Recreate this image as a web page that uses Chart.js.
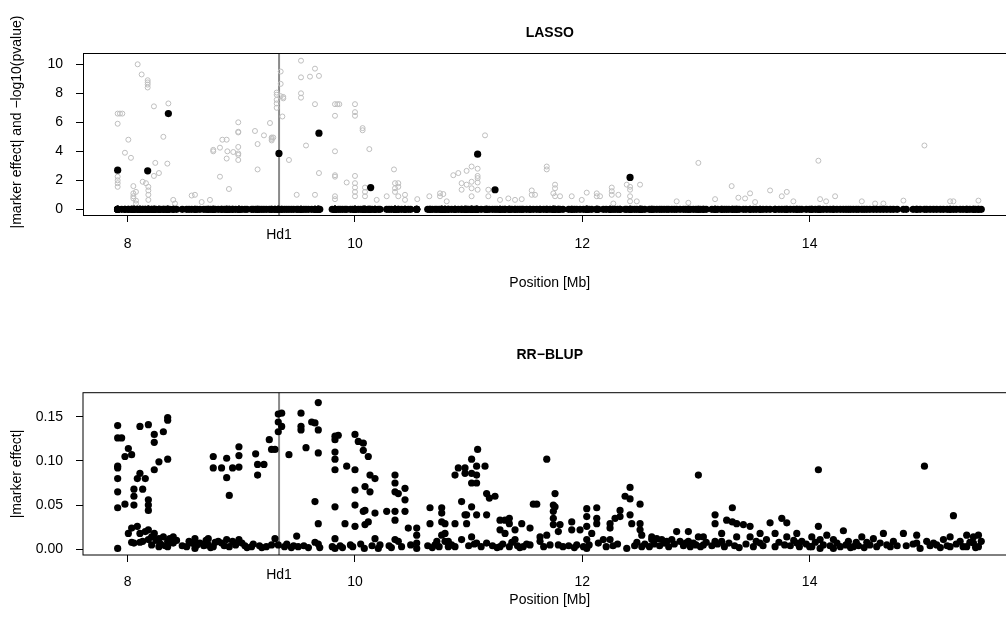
<!DOCTYPE html>
<html>
<head>
<meta charset="utf-8">
<script src="https://cdn.jsdelivr.net/npm/chart.js@4.4.1/dist/chart.umd.min.js"></script>
<style>
  body { margin: 0; width: 1006px; height: 637px; overflow: hidden; background: #fff; position: relative; }
  canvas { position: absolute; left: 0; }
  #lasso { top: 0; }
  #rrblup { top: 318px; }
</style>
</head>
<body>
<canvas id="lasso" width="1040" height="318"></canvas>
<canvas id="rrblup" width="1040" height="319"></canvas>
<script>
// position of the Hd1 gene [Mb]
const hd1Pos = 9.332;

// tick labels
const xTicks = [8, 10, 12, 14];
const lassoTicks = [0, 2, 4, 6, 8, 10];
const rrTicks = [0, 0.05, 0.10, 0.15];

// marker positions [Mb] and RR-BLUP |marker effect|
const markerPos = [
  7.912, 7.912, 7.912, 7.912, 7.912, 7.912, 7.912, 7.912,
  7.947, 7.976, 7.976, 8.006, 8.006, 8.035, 8.035, 8.035,
  8.055, 8.055, 8.055, 8.055, 8.085, 8.085, 8.108, 8.108, 8.108, 8.108,
  8.132, 8.132, 8.155, 8.155, 8.182, 8.182, 8.182, 8.182, 8.182, 8.182,
  8.211, 8.211, 8.234, 8.234, 8.234, 8.234, 8.250, 8.275, 8.275, 8.275, 8.290,
  8.314, 8.314, 8.330, 8.352, 8.352, 8.352, 8.352, 8.352, 8.370, 8.401, 8.401, 8.430,
  8.480, 8.519, 8.540, 8.563, 8.592, 8.592, 8.610, 8.636, 8.670, 8.690, 8.709, 8.709, 8.730,
  8.753, 8.753, 8.753, 8.770, 8.797, 8.826, 8.826, 8.850, 8.871, 8.871, 8.871, 8.894, 8.894,
  8.923, 8.923, 8.950, 8.979, 8.979, 8.979, 8.979, 9.005, 9.032, 9.050,
  9.090, 9.105, 9.126, 9.143, 9.143, 9.160, 9.180, 9.199, 9.220, 9.246, 9.266, 9.266, 9.296, 9.296,
  9.325, 9.325, 9.325, 9.325, 9.355, 9.355, 9.380, 9.400, 9.419, 9.440, 9.460, 9.487, 9.500,
  9.525, 9.525, 9.525, 9.550, 9.569, 9.590, 9.619, 9.648, 9.648, 9.648, 9.677, 9.677, 9.677, 9.677, 9.677, 9.690,
  9.800, 9.824, 9.824, 9.824, 9.824, 9.824, 9.824, 9.824, 9.824, 9.853, 9.870, 9.890, 9.912, 9.927, 9.960, 9.980,
  10.000, 10.000, 10.000, 10.000, 10.000, 10.029, 10.050, 10.073, 10.073, 10.073, 10.082, 10.088, 10.088, 10.088,
  10.117, 10.117, 10.132, 10.132, 10.150, 10.176, 10.176, 10.176, 10.205, 10.220,
  10.279, 10.300, 10.320, 10.352, 10.352, 10.352, 10.352, 10.352, 10.352, 10.381, 10.381, 10.410,
  10.440, 10.440, 10.440, 10.469, 10.490, 10.543, 10.543, 10.543, 10.543,
  10.640, 10.660, 10.660, 10.680, 10.704, 10.720, 10.740, 10.763, 10.763, 10.763, 10.763,
  10.792, 10.792, 10.792, 10.821, 10.821, 10.850, 10.880, 10.880, 10.880, 10.909, 10.938, 10.938,
  10.968, 10.968, 10.968, 10.982, 10.982, 11.000, 11.026, 11.026, 11.026, 11.026, 11.026, 11.050,
  11.070, 11.070, 11.070, 11.070, 11.070, 11.079, 11.110, 11.144, 11.158, 11.158, 11.158, 11.182,
  11.210, 11.232, 11.250, 11.276, 11.276, 11.276, 11.300, 11.320, 11.320, 11.358, 11.358, 11.358,
  11.380, 11.408, 11.408, 11.430, 11.450,
  11.467, 11.480, 11.510, 11.540, 11.540, 11.569, 11.599, 11.628, 11.628, 11.660, 11.687, 11.687, 11.716,
  11.745, 11.745, 11.745, 11.745, 11.760, 11.760, 11.789, 11.789, 11.804, 11.830,
  11.880, 11.907, 11.907, 11.930, 11.951, 11.980, 12.010, 12.039, 12.039, 12.039, 12.039, 12.039, 12.060,
  12.083, 12.127, 12.127, 12.127, 12.141, 12.185, 12.210, 12.244, 12.244, 12.244, 12.270, 12.288, 12.310,
  12.332, 12.332, 12.376, 12.391, 12.420, 12.420, 12.420, 12.435, 12.460, 12.480, 12.508, 12.508, 12.508,
  12.523, 12.523, 12.550, 12.590, 12.611, 12.611, 12.630, 12.655, 12.680, 12.699, 12.720, 12.743, 12.760,
  12.787, 12.810, 12.830, 12.860, 12.890, 12.910, 12.933, 12.933, 12.950, 12.977, 13.000, 13.021, 13.021,
  13.040, 13.065, 13.065, 13.090,
  13.140, 13.168, 13.168, 13.168, 13.190, 13.226, 13.226, 13.250, 13.270, 13.290, 13.320, 13.320, 13.340,
  13.358, 13.358, 13.380, 13.417, 13.440, 13.476, 13.476, 13.505, 13.530, 13.564, 13.564, 13.590, 13.620,
  13.652, 13.696, 13.696, 13.730, 13.755, 13.780, 13.799, 13.799, 13.830, 13.860, 13.887, 13.887, 13.910, 13.931,
  13.970, 14.000, 14.019, 14.019, 14.050, 14.077, 14.077, 14.092, 14.092, 14.120, 14.151, 14.180, 14.209, 14.209,
  14.240, 14.270, 14.297, 14.320, 14.341, 14.360, 14.385, 14.410, 14.430, 14.459, 14.480, 14.503, 14.530,
  14.561, 14.590, 14.620, 14.649, 14.679, 14.710, 14.737, 14.770,
  14.825, 14.850, 14.910, 14.942, 14.942, 14.972, 15.010, 15.030, 15.060, 15.090, 15.118, 15.150, 15.177,
  15.210, 15.236, 15.236, 15.265, 15.290, 15.324, 15.350, 15.382, 15.382, 15.410, 15.441, 15.441, 15.460, 15.485, 15.485, 15.510
];
const rrEffect = [
  0.140, 0.126, 0.094, 0.092, 0.080, 0.065, 0.047, 0.001,
  0.126, 0.105, 0.051, 0.114, 0.018, 0.107, 0.024, 0.008,
  0.068, 0.060, 0.050, 0.007, 0.080, 0.026, 0.139, 0.086, 0.018, 0.008,
  0.068, 0.009, 0.080, 0.020, 0.141, 0.056, 0.050, 0.044, 0.022, 0.011,
  0.014, 0.005, 0.130, 0.121, 0.090, 0.018, 0.010, 0.099, 0.012, 0.003, 0.006,
  0.133, 0.014, 0.004, 0.149, 0.146, 0.102, 0.009, 0.003, 0.012, 0.014, 0.007, 0.010,
  0.004, 0.003, 0.009, 0.007, 0.012, 0.001, 0.005, 0.007, 0.004, 0.010, 0.012, 0.005, 0.002,
  0.105, 0.092, 0.003, 0.008, 0.009, 0.092, 0.007, 0.004, 0.103, 0.081, 0.011, 0.061, 0.003,
  0.092, 0.009, 0.005, 0.116, 0.106, 0.093, 0.011, 0.007, 0.004, 0.002,
  0.003, 0.006, 0.108, 0.096, 0.084, 0.004, 0.002, 0.096, 0.003, 0.124, 0.113, 0.005, 0.113, 0.012,
  0.153, 0.144, 0.133, 0.005, 0.154, 0.139, 0.003, 0.006, 0.107, 0.002, 0.004, 0.015, 0.003,
  0.154, 0.139, 0.135, 0.004, 0.115, 0.002, 0.144, 0.143, 0.054, 0.008, 0.166, 0.135, 0.109, 0.029, 0.006, 0.002,
  0.003, 0.128, 0.124, 0.110, 0.102, 0.090, 0.048, 0.012, 0.001, 0.129, 0.004, 0.002, 0.029, 0.094, 0.005, 0.003,
  0.130, 0.090, 0.067, 0.050, 0.026, 0.122, 0.006, 0.120, 0.112, 0.043, 0.001, 0.071, 0.044, 0.028,
  0.105, 0.031, 0.084, 0.065, 0.004, 0.080, 0.041, 0.012, 0.001, 0.005,
  0.043, 0.004, 0.002, 0.084, 0.075, 0.065, 0.043, 0.033, 0.011, 0.063, 0.009, 0.003,
  0.069, 0.056, 0.043, 0.024, 0.005, 0.024, 0.016, 0.007, 0.001,
  0.004, 0.047, 0.029, 0.002, 0.005, 0.009, 0.003, 0.047, 0.041, 0.031, 0.016,
  0.029, 0.018, 0.009, 0.009, 0.003, 0.005, 0.084, 0.029, 0.003, 0.092, 0.054, 0.011,
  0.092, 0.086, 0.039, 0.039, 0.029, 0.004, 0.102, 0.086, 0.075, 0.048, 0.014, 0.006,
  0.094, 0.084, 0.075, 0.039, 0.007, 0.113, 0.003, 0.094, 0.063, 0.039, 0.007, 0.058,
  0.004, 0.060, 0.002, 0.033, 0.022, 0.003, 0.006, 0.033, 0.018, 0.035, 0.029, 0.003,
  0.008, 0.022, 0.011, 0.004, 0.002,
  0.029, 0.003, 0.006, 0.024, 0.005, 0.051, 0.051, 0.014, 0.009, 0.003, 0.102, 0.016, 0.005,
  0.050, 0.043, 0.035, 0.028, 0.063, 0.048, 0.020, 0.005, 0.028, 0.003,
  0.004, 0.031, 0.022, 0.002, 0.005, 0.022, 0.003, 0.046, 0.037, 0.026, 0.011, 0.001, 0.005,
  0.018, 0.047, 0.035, 0.029, 0.007, 0.011, 0.003, 0.029, 0.024, 0.011, 0.004, 0.035, 0.006,
  0.044, 0.037, 0.060, 0.001, 0.070, 0.057, 0.039, 0.029, 0.004, 0.008, 0.051, 0.029, 0.022,
  0.016, 0.003, 0.006, 0.003, 0.014, 0.011, 0.006, 0.012, 0.004, 0.011, 0.007, 0.009, 0.003,
  0.011, 0.006, 0.020, 0.009, 0.004, 0.007, 0.020, 0.009, 0.003, 0.007, 0.005, 0.084, 0.014,
  0.003, 0.014, 0.005, 0.008,
  0.004, 0.039, 0.029, 0.009, 0.006, 0.018, 0.009, 0.003, 0.033, 0.007, 0.047, 0.031, 0.004,
  0.029, 0.014, 0.002, 0.028, 0.006, 0.026, 0.014, 0.003, 0.009, 0.018, 0.007, 0.004, 0.011,
  0.030, 0.018, 0.003, 0.008, 0.035, 0.005, 0.030, 0.014, 0.004, 0.010, 0.018, 0.007, 0.003, 0.009,
  0.006, 0.003, 0.014, 0.003, 0.008, 0.090, 0.026, 0.011, 0.001, 0.005, 0.016, 0.004, 0.011, 0.001,
  0.007, 0.003, 0.021, 0.005, 0.009, 0.002, 0.003, 0.008, 0.004, 0.014, 0.002, 0.008, 0.005,
  0.012, 0.003, 0.007, 0.018, 0.005, 0.003, 0.009, 0.004,
  0.018, 0.004, 0.006, 0.016, 0.007, 0.001, 0.094, 0.009, 0.004, 0.007, 0.005, 0.002, 0.011,
  0.004, 0.014, 0.003, 0.038, 0.006, 0.009, 0.003, 0.016, 0.003, 0.008, 0.014, 0.007, 0.002, 0.016, 0.003, 0.009
];

// single-marker test, -log10(pvalue) (only the ones that show above the zero row)
const pvalPos = [
  7.912, 7.912, 7.912, 7.912, 7.912, 7.912, 7.932, 7.953, 7.976, 8.006, 8.029,
  8.050, 8.050, 8.050, 8.050, 8.073, 8.073, 8.073, 8.088, 8.123, 8.132, 8.161,
  8.176, 8.176, 8.176, 8.176, 8.182, 8.182, 8.182, 8.182, 8.231, 8.231, 8.243, 8.275,
  8.314, 8.349, 8.358, 8.401, 8.416, 8.563, 8.592, 8.651, 8.724, 8.753, 8.753,
  8.812, 8.812, 8.833, 8.871, 8.871, 8.877, 8.891, 8.929,
  8.973, 8.973, 8.973, 8.973, 8.973, 8.973, 8.973, 9.120, 9.143, 9.143, 9.199, 9.252,
  9.267, 9.267, 9.267, 9.281, 9.311, 9.311, 9.311, 9.311, 9.311,
  9.346, 9.346, 9.346, 9.361, 9.369, 9.369, 9.419, 9.487,
  9.525, 9.525, 9.525, 9.525, 9.569, 9.604, 9.648, 9.648, 9.648, 9.683, 9.683,
  9.824, 9.824, 9.824, 9.824, 9.824, 9.824, 9.824, 9.845, 9.862, 9.927,
  10.000, 10.000, 10.000, 10.000, 10.000, 10.000, 10.000, 10.000, 10.067, 10.067,
  10.088, 10.088, 10.088, 10.126, 10.191, 10.279, 10.343, 10.352, 10.352, 10.352,
  10.381, 10.381, 10.381, 10.440, 10.440, 10.548, 10.654, 10.748, 10.748, 10.777, 10.807,
  10.865, 10.909, 10.938, 10.938, 10.982, 10.982, 11.026, 11.026, 11.026, 11.026,
  11.079, 11.079, 11.079, 11.079, 11.079, 11.144, 11.173, 11.173, 11.276, 11.349, 11.408,
  11.467, 11.555, 11.555, 11.584, 11.687, 11.687, 11.745, 11.760, 11.760, 11.760, 11.804,
  11.907, 11.995, 12.039, 12.127, 12.127, 12.156, 12.259, 12.259, 12.259, 12.273, 12.317,
  12.391, 12.420, 12.420, 12.420, 12.420, 12.479, 12.508, 12.830, 12.933, 13.021,
  13.168, 13.314, 13.373, 13.432, 13.476, 13.520, 13.652, 13.755, 13.799, 13.857,
  14.077, 14.092, 14.145, 14.224, 14.459, 14.576, 14.649, 14.825, 15.010, 15.236, 15.265, 15.485
];
const pvalLog = [
  6.6, 5.9, 2.25, 2.0, 1.8, 1.55, 6.6, 6.6, 3.9, 4.8, 3.55,
  1.6, 1.1, 0.9, 0.75, 1.2, 0.6, 0.4, 10.0, 9.3, 1.9, 1.8,
  8.9, 8.75, 8.6, 8.4, 1.55, 1.3, 1.0, 0.65, 7.1, 2.3, 3.2, 2.5,
  5.0, 3.15, 7.3, 0.65, 0.4, 0.95, 1.0, 0.5, 0.65, 4.1, 4.0,
  2.25, 4.25, 4.8, 4.8, 3.5, 4.0, 1.4, 3.95,
  6.0, 5.35, 5.3, 4.3, 3.85, 3.75, 3.4, 5.4, 4.5, 2.75, 5.1, 5.95,
  4.95, 4.85, 4.75, 4.95, 8.05, 7.9, 7.55, 7.3, 7.0,
  9.5, 8.65, 7.8, 6.4, 7.75, 7.65, 3.4, 1.0,
  10.25, 9.1, 8.0, 7.7, 4.4, 9.15, 9.7, 7.25, 1.0, 9.2, 2.5,
  7.25, 6.45, 4.0, 2.35, 2.25, 0.9, 0.7, 7.25, 7.25, 1.85,
  7.25, 6.7, 6.45, 2.3, 1.8, 1.5, 1.2, 0.9, 5.6, 5.45,
  1.5, 1.2, 0.9, 4.15, 0.65, 0.9, 2.75, 1.8, 1.45, 1.2,
  1.8, 1.55, 0.9, 1.0, 0.65, 0.7, 0.9, 1.1, 0.9, 1.05, 0.55,
  2.35, 2.5, 1.8, 1.35, 2.65, 1.7, 2.95, 1.9, 1.45, 0.9,
  2.8, 2.3, 2.15, 1.85, 1.35, 5.1, 1.35, 0.9, 0.65, 0.75, 0.65,
  0.7, 1.3, 1.0, 1.0, 2.95, 2.75, 1.1, 1.7, 1.45, 0.9, 0.9,
  0.9, 0.65, 1.15, 1.1, 0.9, 0.9, 1.5, 1.25, 1.0, 0.4, 1.0,
  1.7, 1.55, 1.35, 0.9, 0.55, 0.55, 1.7, 0.55, 0.45, 3.2,
  0.7, 1.6, 0.8, 0.75, 1.1, 0.5, 1.3, 0.9, 1.2, 0.55,
  3.35, 0.7, 0.55, 0.9, 0.55, 0.4, 0.4, 0.6, 4.4, 0.55, 0.55, 0.6
];

// markers picked by LASSO (every other marker has effect 0)
const lassoPos = [7.912, 8.176, 8.358, 9.331, 9.683, 10.138, 11.079, 11.232, 12.420];
const lassoEffect = [2.7, 2.65, 6.6, 3.85, 5.25, 1.5, 3.8, 1.35, 2.2];

const FONT = '"Liberation Sans", Arial, Helvetica, sans-serif';

// R-style frame, Hd1 line, titles and Hd1 label
const rPanelPlugin = {
    id: "rPanel",
    beforeDatasetsDraw(chart, args, o) {
        const { ctx, chartArea: a } = chart;
        const px = chart.scales.x.getPixelForValue(hd1Pos);
        ctx.save();
        ctx.strokeStyle = "#8a8a8a";
        ctx.lineWidth = 2;
        ctx.beginPath();
        ctx.moveTo(px, a.top);
        ctx.lineTo(px, a.bottom);
        ctx.stroke();
        ctx.restore();
    },
    afterDraw(chart, args, o) {
        const { ctx, chartArea: a } = chart;
        ctx.save();
        ctx.strokeStyle = o.boxColor;
        ctx.lineWidth = 1;
        ctx.strokeRect(a.left + o.boxOffset, a.top + o.boxOffset, a.right - a.left + 20, a.bottom - a.top);

        ctx.fillStyle = "#000";
        ctx.textAlign = "center";
        ctx.textBaseline = "middle";
        ctx.font = "bold 14px " + FONT;
        ctx.fillText(o.title, (a.left + a.right) / 2, a.top - o.titleGap);

        ctx.font = "14px " + FONT;
        ctx.fillText("Hd1", chart.scales.x.getPixelForValue(hd1Pos), a.bottom + o.hd1Gap);

        // y axis title
        ctx.translate(17.5, o.yTitleY);
        ctx.rotate(-Math.PI / 2);
        ctx.fillText(o.yTitle, 0, 0);
        ctx.restore();
    },
};

function makePanel(id, geo, datasets, yTicks, yFormat) {
    const canvas = document.getElementById(id);
    const tickFont = { family: FONT, size: 14 };
    return new Chart(canvas, {
        type: "scatter",
        data: { datasets: datasets },
        options: {
            responsive: false,
            animation: false,
            devicePixelRatio: 1,
            events: [],
            layout: {
                padding: { left: 0, top: geo.top, right: canvas.width - geo.right, bottom: 0 },
            },
            plugins: {
                legend: { display: false },
                tooltip: { enabled: false },
                rPanel: {
                    title: geo.title,
                    titleGap: geo.titleGap,
                    hd1Gap: geo.hd1Gap,
                    boxColor: geo.boxColor,
                    boxOffset: geo.boxOffset,
                    yTitle: geo.yTitle,
                    yTitleY: geo.yTitleY,
                },
            },
            scales: {
                x: {
                    type: "linear",
                    min: 7.607,
                    max: 15.82,
                    afterBuildTicks: (s) => { s.ticks = xTicks.map((v) => ({ value: v })); },
                    afterFit: (s) => { s.height = canvas.height - geo.bottom; },
                    border: { display: false },
                    grid: { drawOnChartArea: false, drawTicks: true, tickLength: 7, tickColor: "#000", tickWidth: 1 },
                    ticks: { color: "#000", font: tickFont, padding: geo.xTickPad, maxRotation: 0, autoSkip: false },
                    title: { display: true, text: "Position [Mb]", color: "#000", font: tickFont, padding: { top: 0, bottom: geo.xTitlePad } },
                },
                y: {
                    type: "linear",
                    min: geo.yMin,
                    max: geo.yMax,
                    afterBuildTicks: (s) => { s.ticks = yTicks.map((v) => ({ value: v })); },
                    afterFit: (s) => { s.width = geo.left; },
                    border: { display: false },
                    grid: { drawOnChartArea: false, drawTicks: true, tickLength: 7, tickColor: "#000", tickWidth: 1 },
                    ticks: { color: "#000", font: tickFont, padding: 13, callback: yFormat },
                },
            },
        },
        plugins: [rPanelPlugin],
    });
}

// top panel: LASSO
const lassoZeroRow = markerPos.map((p) => ({ x: p, y: 0 }));
const lassoPicked = lassoPos.map((p, i) => ({ x: p, y: lassoEffect[i] }));
makePanel("lasso",
    { left: 83, right: 1016.5, top: 53, bottom: 215, yMin: -0.393, yMax: 10.779,
      title: "LASSO", titleGap: 20, hd1Gap: 20.5, xTickPad: 14, xTitlePad: 26,
      boxColor: "#000", boxOffset: 0.5,
      yTitle: "|marker effect| and \u2212log10(pvalue)", yTitleY: 122 },
    [
        { data: lassoZeroRow.concat(lassoPicked), pointRadius: 3.6, pointBorderWidth: 0,
          pointBackgroundColor: "#000", order: 0 },
        { data: pvalPos.map((p, i) => ({ x: p, y: pvalLog[i] })), pointRadius: 2.5, pointBorderWidth: 1,
          pointBorderColor: "#bebebe", pointBackgroundColor: "rgba(0,0,0,0)", order: 1 },
    ],
    lassoTicks, (v) => String(v));

// bottom panel: RR-BLUP
makePanel("rrblup",
    { left: 83, right: 1016.5, top: 74.7, bottom: 237, yMin: -0.00645, yMax: 0.17715,
      title: "RR\u2212BLUP", titleGap: 38, hd1Gap: 20.5, xTickPad: 12, xTitlePad: 28,
      boxColor: "#000", boxOffset: 0,
      yTitle: "|marker effect|", yTitleY: 156 },
    [
        { data: markerPos.map((p, i) => ({ x: p, y: rrEffect[i] })), pointRadius: 3.6, pointBorderWidth: 0,
          pointBackgroundColor: "#000" },
    ],
    rrTicks, (v) => v.toFixed(2));
</script>
</body>
</html>
